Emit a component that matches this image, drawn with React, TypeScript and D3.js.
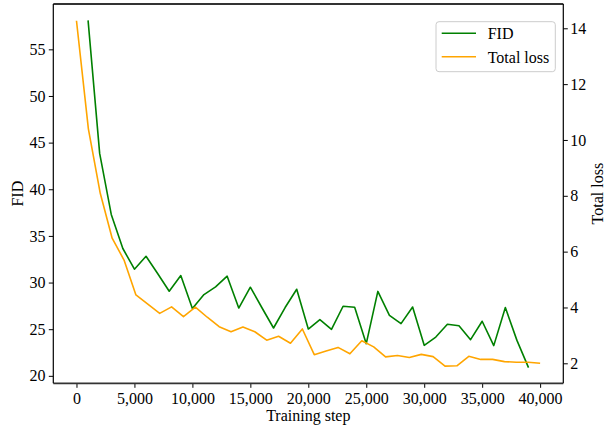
import React, { useRef, useEffect } from 'react';
import * as d3 from 'd3';

// FID, evaluated every 1,000 steps
const fidSteps = [
  1000, 2000, 3000, 4000, 5000, 6000, 7000, 8000, 9000, 10000,
  11000, 12000, 13000, 14000, 15000, 16000, 17000, 18000, 19000, 20000,
  21000, 22000, 23000, 24000, 25000, 26000, 27000, 28000, 29000, 30000,
  31000, 32000, 33000, 34000, 35000, 36000, 37000, 38000, 39000,
];
const fidValues = [
  58.1, 43.84, 37.3, 33.65, 31.43, 32.82, 30.97, 29.07, 30.75, 27.21,
  28.71, 29.53, 30.68, 27.27, 29.5, 27.3, 25.13, 27.32, 29.28, 25.02,
  26.03, 24.99, 27.46, 27.35, 23.45, 29.05, 26.49, 25.6, 27.38, 23.27,
  24.16, 25.53, 25.37, 23.88, 25.85, 23.24, 27.32, 23.8, 20.88,
];

// total loss, 40 logged points between 0 and 40,000
const lossSteps = [
  0, 1026, 2051, 3077, 4103, 5128, 6154, 7179, 8205, 9231,
  10256, 11282, 12308, 13333, 14359, 15385, 16410, 17436, 18462, 19487,
  20513, 21538, 22564, 23590, 24615, 25641, 26667, 27692, 28718, 29744,
  30769, 31795, 32821, 33846, 34872, 35897, 36923, 37949, 38974, 40000,
];
const lossValues = [
  14.27, 10.4, 8.09, 6.48, 5.7, 4.45, 4.12, 3.79, 4.02, 3.67,
  4.01, 3.65, 3.31, 3.13, 3.3, 3.13, 2.83, 2.97, 2.72, 3.23,
  2.31, 2.44, 2.57, 2.34, 2.81, 2.59, 2.23, 2.28, 2.21, 2.32,
  2.24, 1.9, 1.91, 2.25, 2.14, 2.14, 2.06, 2.04, 2.04, 2.0,
];

const stepTicks = [0, 5000, 10000, 15000, 20000, 25000, 30000, 35000, 40000];
const fidTicks = [20, 25, 30, 35, 40, 45, 50, 55];
const lossTicks = [2, 4, 6, 8, 10, 12, 14];

const FONT = '"Liberation Serif", "Times New Roman", serif';

export default function App() {
  const ref = useRef<SVGSVGElement>(null);

  useEffect(() => {
    const svg = d3.select(ref.current);
    svg.selectAll('*').remove();

    const left = 53.3, right = 563.3, top = 4, bottom = 383.3;

    const x = d3.scaleLinear().domain([-2000, 42000]).range([left, right]);
    const yFid = d3.scaleLinear().domain([19.2, 59.86]).range([bottom, top]);
    const yLoss = d3.scaleLinear().domain([1.284, 14.87]).range([bottom, top]);

    const fmt = d3.format(',');

    // axes
    const styleAxis = (g: any) => {
      g.attr('font-family', FONT).attr('font-size', 16);
      g.select('.domain').remove();
      g.selectAll('line').attr('stroke', '#000').attr('stroke-width', 1);
      g.selectAll('text').attr('fill', '#000');
    };

    svg.append('g')
      .attr('transform', `translate(0,${bottom})`)
      .call(d3.axisBottom(x).tickValues(stepTicks).tickFormat((d: any) => fmt(d)).tickSize(4.5).tickPadding(4.8))
      .call(styleAxis);

    svg.append('g')
      .attr('transform', `translate(${left},0)`)
      .call(d3.axisLeft(yFid).tickValues(fidTicks).tickSize(4.5).tickPadding(3.2))
      .call(styleAxis);

    svg.append('g')
      .attr('transform', `translate(${right},0)`)
      .call(d3.axisRight(yLoss).tickValues(lossTicks).tickSize(4.5).tickPadding(2.4))
      .call(styleAxis);

    // lines
    const fidLine = d3.line<number>()
      .x((_, i) => x(fidSteps[i]))
      .y(d => yFid(d));
    const lossLine = d3.line<number>()
      .x((_, i) => x(lossSteps[i]))
      .y(d => yLoss(d));

    svg.append('path')
      .attr('d', fidLine(fidValues))
      .attr('fill', 'none')
      .attr('stroke', 'green')
      .attr('stroke-width', 1.6)
      .attr('stroke-linejoin', 'round');

    svg.append('path')
      .attr('d', lossLine(lossValues))
      .attr('fill', 'none')
      .attr('stroke', 'orange')
      .attr('stroke-width', 1.6)
      .attr('stroke-linejoin', 'round');

    // spines
    svg.append('line')
      .attr('x1', left).attr('x2', right).attr('y1', top).attr('y2', top)
      .attr('stroke', '#333').attr('stroke-width', 1.8);
    svg.append('line')
      .attr('x1', left).attr('x2', right).attr('y1', bottom).attr('y2', bottom)
      .attr('stroke', '#333').attr('stroke-width', 1.8);
    svg.append('line')
      .attr('x1', left).attr('x2', left).attr('y1', top).attr('y2', bottom)
      .attr('stroke', '#000').attr('stroke-width', 1.2);
    svg.append('line')
      .attr('x1', right).attr('x2', right).attr('y1', top).attr('y2', bottom)
      .attr('stroke', '#000').attr('stroke-width', 1.2);

    // axis labels
    svg.append('text')
      .attr('x', (left + right) / 2).attr('y', 421)
      .attr('text-anchor', 'middle')
      .attr('font-family', FONT).attr('font-size', 16)
      .text('Training step');

    svg.append('text')
      .attr('transform', `translate(22.5,${(top + bottom) / 2}) rotate(-90)`)
      .attr('text-anchor', 'middle')
      .attr('font-family', FONT).attr('font-size', 16)
      .text('FID');

    svg.append('text')
      .attr('transform', `translate(602.5,${(top + bottom) / 2}) rotate(-90)`)
      .attr('text-anchor', 'middle')
      .attr('font-family', FONT).attr('font-size', 16)
      .text('Total loss');

    // legend
    const legend = svg.append('g');
    legend.append('rect')
      .attr('x', 436).attr('y', 21.7).attr('width', 119.3).attr('height', 50)
      .attr('rx', 3)
      .attr('fill', 'white').attr('fill-opacity', 0.8)
      .attr('stroke', '#cccccc').attr('stroke-width', 1);

    const items = [
      { label: 'FID', color: 'green', y: 33.3 },
      { label: 'Total loss', color: 'orange', y: 56.7 },
    ];
    items.forEach(it => {
      legend.append('line')
        .attr('x1', 441.7).attr('x2', 476).attr('y1', it.y).attr('y2', it.y)
        .attr('stroke', it.color).attr('stroke-width', 1.6);
      legend.append('text')
        .attr('x', 487.7).attr('y', it.y + 5.8)
        .attr('font-family', FONT).attr('font-size', 16)
        .text(it.label);
    });
  }, []);

  return (
    <svg
      ref={ref}
      width={605}
      height={427}
      style={{ position: 'absolute', left: 0, top: 0, background: 'white' }}
    ></svg>
  );
}
